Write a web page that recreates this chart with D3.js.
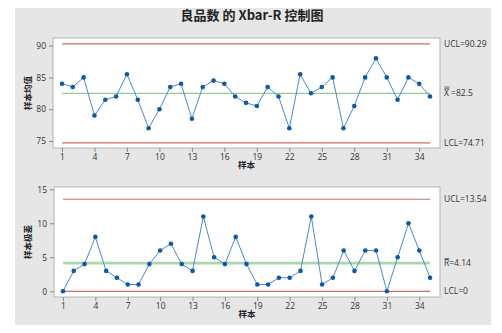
<!DOCTYPE html>
<html>
<head>
<meta charset="utf-8">
<script src="https://cdn.jsdelivr.net/npm/d3@7"></script>
<style>
  body { margin: 0; background: #fff; }
  svg text { font-family: "Open Sans", "Noto Sans", "Noto Sans CJK SC", sans-serif; }
</style>
</head>
<body>
<div id="chart"></div>
<script>
// data
const samples = d3.range(1, 36);
const xbarValues = [84, 83.5, 85, 79, 81.5, 82, 85.5, 81.5, 77, 80, 83.5, 84, 78.5, 83.5, 84.5, 84, 82, 81,
    80.5, 83.5, 82, 77, 85.5, 82.5, 83.5, 85, 77, 80.5, 85, 88, 85, 81.5, 85, 84, 82];
const rangeValues = [0, 3, 4, 8, 3, 2, 1, 1, 4, 6, 7, 4, 3, 11, 5, 4, 8, 4,
    1, 1, 2, 2, 3, 11, 1, 2, 6, 3, 6, 6, 0, 5, 10, 6, 2];
const xTicks = [1, 4, 7, 10, 13, 16, 19, 22, 25, 28, 31, 34];
const xbarLimits = { ucl: 90.29, center: 82.5, lcl: 74.71 };
const rLimits = { ucl: 13.54, center: 4.14, lcl: 0 };
const xbarTicks = [75, 80, 85, 90];
const rTicks = [0, 5, 10, 15];

const W = 502, H = 333;
const svg = d3.select("#chart").append("svg")
    .attr("width", W).attr("height", H);

svg.append("rect").attr("x", 15).attr("y", 8).attr("width", 476).attr("height", 317)
    .attr("fill", "#e6e6e6");

svg.append("text").attr("x", 252).attr("y", 20)
    .attr("text-anchor", "middle")
    .style("font-size", "13px").style("font-weight", "bold").style("fill", "#222")
    .style("font-family", "'Noto Sans CJK SC', sans-serif")
    .text("良品数 的 Xbar-R 控制图");

function panel(opt) {
    const x = d3.scaleLinear().domain([0.17, 35.92]).range([opt.left, opt.right]);
    const y = d3.scaleLinear().domain(opt.domain).range([opt.bottom, opt.top]);
    const g = svg.append("g");

    g.append("rect").attr("x", opt.left).attr("y", opt.top)
        .attr("width", opt.right - opt.left).attr("height", opt.bottom - opt.top)
        .attr("fill", "#fff").attr("stroke", "#b4b4b4").attr("stroke-width", 1);

    const yAxis = g.append("g").attr("transform", `translate(${opt.left},0)`)
        .call(d3.axisLeft(y).tickValues(opt.ticks).tickSize(4).tickPadding(3));
    const xAxis = g.append("g").attr("transform", `translate(0,${opt.bottom})`)
        .call(d3.axisBottom(x).tickValues(xTicks).tickSize(4).tickPadding(2));
    [yAxis, xAxis].forEach(a => {
        a.select(".domain").remove();
        a.selectAll("line").attr("stroke", "#888");
        a.selectAll("text").style("font-size", "8.5px").style("fill", "#333")
            .style("font-family", "'Open Sans', sans-serif");
    });

    // limit lines
    const lim = [
        { v: opt.limits.ucl, c: "#d46a6a", w: 1.2 },
        { v: opt.limits.lcl, c: "#d46a6a", w: 1.2 },
        { v: opt.limits.center, c: opt.centerColor, w: opt.centerWidth }
    ];
    g.selectAll(".lim").data(lim).join("line")
        .attr("x1", x(1)).attr("x2", x(35))
        .attr("y1", d => y(d.v)).attr("y2", d => y(d.v))
        .attr("stroke", d => d.c).attr("stroke-width", d => d.w);

    const line = d3.line().x((d, i) => x(samples[i])).y(d => y(d));
    g.append("path").datum(opt.values).attr("d", line)
        .attr("fill", "none").attr("stroke", "#4a8ad0").attr("stroke-width", 1);
    g.selectAll(".pt").data(opt.values).join("circle")
        .attr("cx", (d, i) => x(samples[i])).attr("cy", d => y(d))
        .attr("r", 2.3).attr("fill", "#0b5aa8");

    // axis titles
    g.append("text").attr("x", (opt.left + opt.right) / 2).attr("y", opt.bottom + 20)
        .attr("text-anchor", "middle")
        .style("font-size", "8.5px").style("font-weight", "bold").style("fill", "#222")
        .style("font-family", "'Noto Sans CJK SC', sans-serif")
        .text("样本");
    g.append("text")
        .attr("transform", `translate(31,${(opt.top + opt.bottom) / 2}) rotate(-90)`)
        .attr("text-anchor", "middle")
        .style("font-size", "8.5px").style("font-weight", "bold").style("fill", "#222")
        .style("font-family", "'Noto Sans CJK SC', sans-serif")
        .text(opt.ylabel);

    // right-side labels
    const lx = opt.right + 4;
    const lab = (v, t) => g.append("text").attr("x", lx).attr("y", y(v) + 3)
        .style("font-size", "8.5px").style("fill", "#333").text(t);
    lab(opt.limits.ucl, "UCL=" + opt.limits.ucl);
    lab(opt.limits.lcl, "LCL=" + opt.limits.lcl);
    lab(opt.limits.center, opt.centerLabel);
    for (let b = 0; b < opt.centerBars; b++) {
        g.append("line").attr("x1", lx + 0.5).attr("x2", lx + 5.5)
            .attr("y1", y(opt.limits.center) - 4.5 - b * 1.8)
            .attr("y2", y(opt.limits.center) - 4.5 - b * 1.8)
            .attr("stroke", "#333").attr("stroke-width", 0.7);
    }
}

panel({
    left: 53, right: 440, top: 38, bottom: 148,
    domain: [73.9, 91.2], ticks: xbarTicks, values: xbarValues,
    limits: xbarLimits, ylabel: "样本均值", centerLabel: "X  =" + xbarLimits.center,
    centerBars: 2, centerWidth: 1.2, centerColor: "#8fcf8f"
});
panel({
    left: 54, right: 440, top: 187, bottom: 297,
    domain: [-0.84, 15.34], ticks: rTicks, values: rangeValues,
    limits: rLimits, ylabel: "样本极差", centerLabel: "R=" + rLimits.center,
    centerBars: 1, centerWidth: 2.6, centerColor: "#a9d8a9"
});
</script>
</body>
</html>
